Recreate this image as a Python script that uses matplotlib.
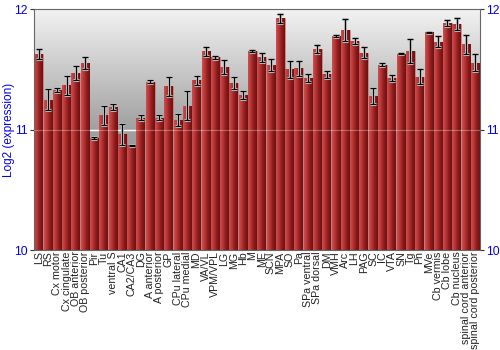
import numpy as np
import matplotlib
matplotlib.use("Agg")
import matplotlib.pyplot as plt
from matplotlib.colors import LinearSegmentedColormap

plt.rcParams["font.family"] = ["Liberation Sans", "DejaVu Sans"]

regions = ["LS", "RS", "Cx motor", "Cx cingulate", "OB anterior", "OB posterior",
           "Pir", "Tu", "ventral S", "CA1", "CA2/CA3", "DG", "A anterior",
           "A posterior", "GP", "CPu lateral", "CPu medial", "MD", "VA/VL",
           "VPM/VPL", "LG", "MG", "Hb", "M", "ME", "SCN", "MPA", "SO", "Pa",
           "SPa ventral", "SPa dorsal", "DM", "VMH", "Arc", "LH", "PAG", "SC",
           "IC", "VTA", "SN", "Tg", "Pn", "MVe", "Cb vermis", "Cb lobe",
           "Cb nucleus", "spinal cord anterior", "spinal cord posterior"]
values = [11.63, 11.25, 11.33, 11.37, 11.47, 11.55, 10.93, 11.12, 11.19, 10.96,
          10.87, 11.10, 11.40, 11.10, 11.36, 11.08, 11.20, 11.41, 11.65, 11.60,
          11.52, 11.39, 11.29, 11.655, 11.60, 11.54, 11.925, 11.50, 11.51, 11.43,
          11.67, 11.46, 11.78, 11.83, 11.74, 11.64, 11.28, 11.54, 11.43, 11.63,
          11.65, 11.44, 11.81, 11.73, 11.89, 11.88, 11.71, 11.555]
errors = [0.04, 0.09, 0.02, 0.08, 0.06, 0.05, 0.01, 0.08, 0.025, 0.09,
          0.005, 0.02, 0.015, 0.02, 0.08, 0.05, 0.12, 0.04, 0.035, 0.01,
          0.055, 0.05, 0.035, 0.01, 0.035, 0.05, 0.04, 0.07, 0.06, 0.03,
          0.035, 0.03, 0.01, 0.09, 0.025, 0.045, 0.07, 0.015, 0.025, 0.005,
          0.1, 0.06, 0.005, 0.045, 0.025, 0.05, 0.08, 0.07]

fig = plt.figure(figsize=(5, 3.5), dpi=100)
ax = fig.add_axes([0.068, 0.2857, 0.892, 0.6877])

x = np.arange(len(regions))
w = 0.94
ymin, ymax = 10, 12

# background gradient
bg = LinearSegmentedColormap.from_list("bg", [(0, "#8a8a8a"), (0.5, "#a0a0a0"), (1, "#f2f2f2")])
ax.imshow(np.linspace(0, 1, 200).reshape(-1, 1), cmap=bg, aspect="auto",
          extent=[-0.5, len(regions) - 0.5, ymin, ymax], origin="lower", zorder=0)
ax.axhline(11, color="white", lw=1, zorder=1)

# bars with horizontal gradient
barcm = LinearSegmentedColormap.from_list("bar", ["#c9524f", "#b53434", "#8c1c1c", "#6e1010"])
grad = np.linspace(0, 1, 50).reshape(1, -1)
bars = ax.bar(x, np.array(values) - ymin, w, bottom=ymin, color="#b03030",
              edgecolor="#d88a88", linewidth=0.5, zorder=2)
for b in bars:
    im = ax.imshow(grad, cmap=barcm, aspect="auto", zorder=2.5,
                   extent=[b.get_x(), b.get_x() + b.get_width(), ymin, b.get_y() + b.get_height()])
    im.set_clip_path(b)
ax.axhline(11, color="white", lw=0.8, alpha=0.3, zorder=2.8)

ax.errorbar(x, values, yerr=errors, fmt="none", ecolor="#cccccc", elinewidth=2.2,
            capsize=2.5, capthick=2.2, zorder=3)
ax.errorbar(x, values, yerr=errors, fmt="none", ecolor="black", elinewidth=0.9,
            capsize=2, capthick=0.9, zorder=4)

ax.set_xlim(-0.5, len(regions) - 0.5)
ax.set_ylim(ymin, ymax)
ax.set_yticks([10, 11, 12])
ax.tick_params(axis="y", labelcolor="#0000ee", color="#333333", labelsize=8.7,
               length=3, pad=1.5, right=True, labelright=True)
ax.tick_params(axis="x", length=0, pad=1)
ax.set_xticks(x)
ax.set_xticklabels(regions, rotation=90, fontsize=7.7, color="#222222")
fig.text(0.018, 0.63, "Log2 (expression)", rotation=90, ha="center", va="center",
         color="#0000ee", fontsize=8.5)
for s in ax.spines.values():
    s.set_color("#666666")

fig.savefig("out.png", dpi=100)
